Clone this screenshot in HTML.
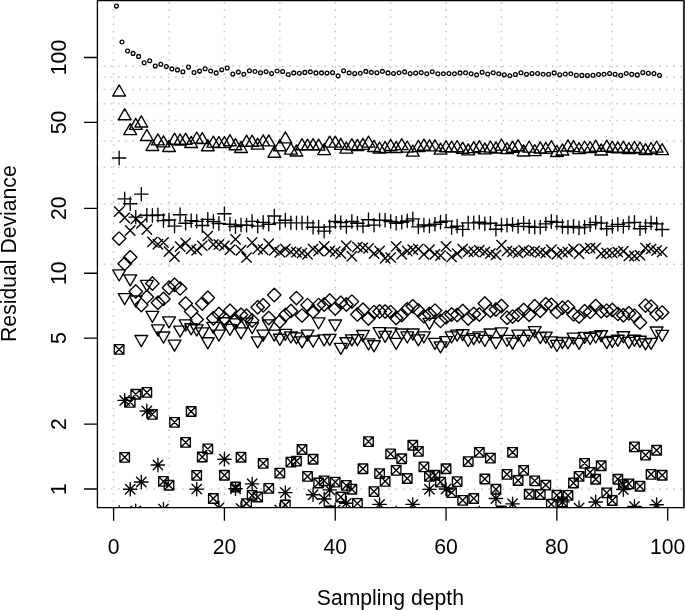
<!DOCTYPE html><html><head><meta charset="utf-8"><style>html,body{margin:0;padding:0;background:#fff;}svg{display:block;will-change:transform;}text{font-family:"Liberation Sans",sans-serif;fill:#000;}</style></head><body>
<svg width="685" height="610" viewBox="0 0 685 610">
<rect width="685" height="610" fill="#fff"/>
<defs><clipPath id="c"><rect x="97.4" y="0.5" width="586.2" height="507.2"/></clipPath></defs>
<path d="M113.6 1.91V507.7M169.01 1.91V507.7M224.42 1.91V507.7M279.83 1.91V507.7M335.24 1.91V507.7M390.65 1.91V507.7M446.06 1.91V507.7M501.47 1.91V507.7M556.88 1.91V507.7M612.29 1.91V507.7" stroke="#cccccc" stroke-width="1.5" stroke-dasharray="1.78 5.34" fill="none"/>
<path d="M96.51 489H683.6M96.51 264.32H683.6M96.51 203.73H683.6M96.51 167.24H683.6M96.51 141.04H683.6M96.51 120.59H683.6M96.51 103.82H683.6M96.51 89.59H683.6M96.51 77.24H683.6M96.51 66.34H683.6" stroke="#cccccc" stroke-width="1.5" stroke-dasharray="1.78 5.34" fill="none"/>
<g clip-path="url(#c)" fill="none" stroke="#000">
<path d="M114.54 6.1a1.9 1.9 0 1 0 3.8 0a1.9 1.9 0 1 0 -3.8 0M120.08 42a1.9 1.9 0 1 0 3.8 0a1.9 1.9 0 1 0 -3.8 0M125.62 51a1.9 1.9 0 1 0 3.8 0a1.9 1.9 0 1 0 -3.8 0M131.16 53.4a1.9 1.9 0 1 0 3.8 0a1.9 1.9 0 1 0 -3.8 0M136.71 56.4a1.9 1.9 0 1 0 3.8 0a1.9 1.9 0 1 0 -3.8 0M142.25 62.7a1.9 1.9 0 1 0 3.8 0a1.9 1.9 0 1 0 -3.8 0M147.79 60.8a1.9 1.9 0 1 0 3.8 0a1.9 1.9 0 1 0 -3.8 0M153.33 66a1.9 1.9 0 1 0 3.8 0a1.9 1.9 0 1 0 -3.8 0M158.87 64.3a1.9 1.9 0 1 0 3.8 0a1.9 1.9 0 1 0 -3.8 0M164.41 66.6a1.9 1.9 0 1 0 3.8 0a1.9 1.9 0 1 0 -3.8 0M169.95 68.9a1.9 1.9 0 1 0 3.8 0a1.9 1.9 0 1 0 -3.8 0M175.49 69.9a1.9 1.9 0 1 0 3.8 0a1.9 1.9 0 1 0 -3.8 0M181.03 71.7a1.9 1.9 0 1 0 3.8 0a1.9 1.9 0 1 0 -3.8 0M186.57 67.1a1.9 1.9 0 1 0 3.8 0a1.9 1.9 0 1 0 -3.8 0M192.12 72.5a1.9 1.9 0 1 0 3.8 0a1.9 1.9 0 1 0 -3.8 0M197.66 71.1a1.9 1.9 0 1 0 3.8 0a1.9 1.9 0 1 0 -3.8 0M203.2 68.7a1.9 1.9 0 1 0 3.8 0a1.9 1.9 0 1 0 -3.8 0M208.74 71a1.9 1.9 0 1 0 3.8 0a1.9 1.9 0 1 0 -3.8 0M214.28 72.9a1.9 1.9 0 1 0 3.8 0a1.9 1.9 0 1 0 -3.8 0M219.82 69.7a1.9 1.9 0 1 0 3.8 0a1.9 1.9 0 1 0 -3.8 0M225.36 68a1.9 1.9 0 1 0 3.8 0a1.9 1.9 0 1 0 -3.8 0M230.9 74a1.9 1.9 0 1 0 3.8 0a1.9 1.9 0 1 0 -3.8 0M236.44 72.1a1.9 1.9 0 1 0 3.8 0a1.9 1.9 0 1 0 -3.8 0M241.98 74.3a1.9 1.9 0 1 0 3.8 0a1.9 1.9 0 1 0 -3.8 0M247.53 70.7a1.9 1.9 0 1 0 3.8 0a1.9 1.9 0 1 0 -3.8 0M253.07 71.5a1.9 1.9 0 1 0 3.8 0a1.9 1.9 0 1 0 -3.8 0M258.61 72.8a1.9 1.9 0 1 0 3.8 0a1.9 1.9 0 1 0 -3.8 0M264.15 71.7a1.9 1.9 0 1 0 3.8 0a1.9 1.9 0 1 0 -3.8 0M269.69 73.6a1.9 1.9 0 1 0 3.8 0a1.9 1.9 0 1 0 -3.8 0M275.23 71a1.9 1.9 0 1 0 3.8 0a1.9 1.9 0 1 0 -3.8 0M280.77 71.5a1.9 1.9 0 1 0 3.8 0a1.9 1.9 0 1 0 -3.8 0M286.31 74.5a1.9 1.9 0 1 0 3.8 0a1.9 1.9 0 1 0 -3.8 0M291.85 72.9a1.9 1.9 0 1 0 3.8 0a1.9 1.9 0 1 0 -3.8 0M297.39 73.3a1.9 1.9 0 1 0 3.8 0a1.9 1.9 0 1 0 -3.8 0M302.94 72.4a1.9 1.9 0 1 0 3.8 0a1.9 1.9 0 1 0 -3.8 0M308.48 71.9a1.9 1.9 0 1 0 3.8 0a1.9 1.9 0 1 0 -3.8 0M314.02 72.9a1.9 1.9 0 1 0 3.8 0a1.9 1.9 0 1 0 -3.8 0M319.56 72.9a1.9 1.9 0 1 0 3.8 0a1.9 1.9 0 1 0 -3.8 0M325.1 73.1a1.9 1.9 0 1 0 3.8 0a1.9 1.9 0 1 0 -3.8 0M330.64 72.6a1.9 1.9 0 1 0 3.8 0a1.9 1.9 0 1 0 -3.8 0M336.18 75.9a1.9 1.9 0 1 0 3.8 0a1.9 1.9 0 1 0 -3.8 0M341.72 70.7a1.9 1.9 0 1 0 3.8 0a1.9 1.9 0 1 0 -3.8 0M347.26 72.9a1.9 1.9 0 1 0 3.8 0a1.9 1.9 0 1 0 -3.8 0M352.8 73.6a1.9 1.9 0 1 0 3.8 0a1.9 1.9 0 1 0 -3.8 0M358.35 73.3a1.9 1.9 0 1 0 3.8 0a1.9 1.9 0 1 0 -3.8 0M363.89 71.4a1.9 1.9 0 1 0 3.8 0a1.9 1.9 0 1 0 -3.8 0M369.43 72.4a1.9 1.9 0 1 0 3.8 0a1.9 1.9 0 1 0 -3.8 0M374.97 72.8a1.9 1.9 0 1 0 3.8 0a1.9 1.9 0 1 0 -3.8 0M380.51 71.4a1.9 1.9 0 1 0 3.8 0a1.9 1.9 0 1 0 -3.8 0M386.05 72.9a1.9 1.9 0 1 0 3.8 0a1.9 1.9 0 1 0 -3.8 0M391.59 73.5a1.9 1.9 0 1 0 3.8 0a1.9 1.9 0 1 0 -3.8 0M397.13 72.8a1.9 1.9 0 1 0 3.8 0a1.9 1.9 0 1 0 -3.8 0M402.67 71.9a1.9 1.9 0 1 0 3.8 0a1.9 1.9 0 1 0 -3.8 0M408.21 73.6a1.9 1.9 0 1 0 3.8 0a1.9 1.9 0 1 0 -3.8 0M413.76 73.1a1.9 1.9 0 1 0 3.8 0a1.9 1.9 0 1 0 -3.8 0M419.3 72.6a1.9 1.9 0 1 0 3.8 0a1.9 1.9 0 1 0 -3.8 0M424.84 73.8a1.9 1.9 0 1 0 3.8 0a1.9 1.9 0 1 0 -3.8 0M430.38 71.7a1.9 1.9 0 1 0 3.8 0a1.9 1.9 0 1 0 -3.8 0M435.92 73.8a1.9 1.9 0 1 0 3.8 0a1.9 1.9 0 1 0 -3.8 0M441.46 73.8a1.9 1.9 0 1 0 3.8 0a1.9 1.9 0 1 0 -3.8 0M447 73.5a1.9 1.9 0 1 0 3.8 0a1.9 1.9 0 1 0 -3.8 0M452.54 73.8a1.9 1.9 0 1 0 3.8 0a1.9 1.9 0 1 0 -3.8 0M458.08 72.9a1.9 1.9 0 1 0 3.8 0a1.9 1.9 0 1 0 -3.8 0M463.62 72.8a1.9 1.9 0 1 0 3.8 0a1.9 1.9 0 1 0 -3.8 0M469.17 73.8a1.9 1.9 0 1 0 3.8 0a1.9 1.9 0 1 0 -3.8 0M474.71 74.9a1.9 1.9 0 1 0 3.8 0a1.9 1.9 0 1 0 -3.8 0M480.25 72.2a1.9 1.9 0 1 0 3.8 0a1.9 1.9 0 1 0 -3.8 0M485.79 74a1.9 1.9 0 1 0 3.8 0a1.9 1.9 0 1 0 -3.8 0M491.33 72.8a1.9 1.9 0 1 0 3.8 0a1.9 1.9 0 1 0 -3.8 0M496.87 73.8a1.9 1.9 0 1 0 3.8 0a1.9 1.9 0 1 0 -3.8 0M502.41 74.7a1.9 1.9 0 1 0 3.8 0a1.9 1.9 0 1 0 -3.8 0M507.95 75.7a1.9 1.9 0 1 0 3.8 0a1.9 1.9 0 1 0 -3.8 0M513.49 74.5a1.9 1.9 0 1 0 3.8 0a1.9 1.9 0 1 0 -3.8 0M519.03 72.8a1.9 1.9 0 1 0 3.8 0a1.9 1.9 0 1 0 -3.8 0M524.58 74.3a1.9 1.9 0 1 0 3.8 0a1.9 1.9 0 1 0 -3.8 0M530.12 73.5a1.9 1.9 0 1 0 3.8 0a1.9 1.9 0 1 0 -3.8 0M535.66 73.5a1.9 1.9 0 1 0 3.8 0a1.9 1.9 0 1 0 -3.8 0M541.2 74.3a1.9 1.9 0 1 0 3.8 0a1.9 1.9 0 1 0 -3.8 0M546.74 74.2a1.9 1.9 0 1 0 3.8 0a1.9 1.9 0 1 0 -3.8 0M552.28 72.9a1.9 1.9 0 1 0 3.8 0a1.9 1.9 0 1 0 -3.8 0M557.82 74.7a1.9 1.9 0 1 0 3.8 0a1.9 1.9 0 1 0 -3.8 0M563.36 74a1.9 1.9 0 1 0 3.8 0a1.9 1.9 0 1 0 -3.8 0M568.9 73.8a1.9 1.9 0 1 0 3.8 0a1.9 1.9 0 1 0 -3.8 0M574.44 75.2a1.9 1.9 0 1 0 3.8 0a1.9 1.9 0 1 0 -3.8 0M579.99 75.4a1.9 1.9 0 1 0 3.8 0a1.9 1.9 0 1 0 -3.8 0M585.53 75.6a1.9 1.9 0 1 0 3.8 0a1.9 1.9 0 1 0 -3.8 0M591.07 75.2a1.9 1.9 0 1 0 3.8 0a1.9 1.9 0 1 0 -3.8 0M596.61 74.5a1.9 1.9 0 1 0 3.8 0a1.9 1.9 0 1 0 -3.8 0M602.15 74.3a1.9 1.9 0 1 0 3.8 0a1.9 1.9 0 1 0 -3.8 0M607.69 73.5a1.9 1.9 0 1 0 3.8 0a1.9 1.9 0 1 0 -3.8 0M613.23 74.3a1.9 1.9 0 1 0 3.8 0a1.9 1.9 0 1 0 -3.8 0M618.77 75.4a1.9 1.9 0 1 0 3.8 0a1.9 1.9 0 1 0 -3.8 0M624.31 73.5a1.9 1.9 0 1 0 3.8 0a1.9 1.9 0 1 0 -3.8 0M629.85 74.2a1.9 1.9 0 1 0 3.8 0a1.9 1.9 0 1 0 -3.8 0M635.39 74.9a1.9 1.9 0 1 0 3.8 0a1.9 1.9 0 1 0 -3.8 0M640.94 72.6a1.9 1.9 0 1 0 3.8 0a1.9 1.9 0 1 0 -3.8 0M646.48 73.3a1.9 1.9 0 1 0 3.8 0a1.9 1.9 0 1 0 -3.8 0M652.02 73.6a1.9 1.9 0 1 0 3.8 0a1.9 1.9 0 1 0 -3.8 0M657.56 75.4a1.9 1.9 0 1 0 3.8 0a1.9 1.9 0 1 0 -3.8 0" stroke-width="1.3"/>
<path d="M119.14 84.91L125.54 95.99H112.74ZM124.68 108.71L131.08 119.79H118.28ZM130.22 123.61L136.62 134.69H123.83ZM135.76 118.31L142.16 129.39H129.37ZM141.31 115.91L147.7 126.99H134.91ZM146.85 129.41L153.24 140.49H140.45ZM152.39 139.41L158.78 150.49H145.99ZM157.93 133.81L164.33 144.89H151.53ZM163.47 135.81L169.87 146.89H157.07ZM169.01 140.41L175.41 151.49H162.61ZM174.55 133.21L180.95 144.29H168.15ZM180.09 134.01L186.49 145.09H173.69ZM185.63 133.21L192.03 144.29H179.24ZM191.17 136.41L197.57 147.49H184.78ZM196.72 132.01L203.11 143.09H190.32ZM202.26 132.61L208.65 143.69H195.86ZM207.8 139.71L214.19 150.79H201.4ZM213.34 136.11L219.74 147.19H206.94ZM218.88 136.51L225.28 147.59H212.48ZM224.42 136.51L230.82 147.59H218.02ZM229.96 134.71L236.36 145.79H223.56ZM235.5 138.71L241.9 149.79H229.1ZM241.04 141.41L247.44 152.49H234.65ZM246.58 135.21L252.98 146.29H240.19ZM252.12 135.21L258.52 146.29H245.73ZM257.67 138.11L264.06 149.19H251.27ZM263.21 134.81L269.6 145.89H256.81ZM268.75 134.81L275.15 145.89H262.35ZM274.29 146.21L280.69 157.29H267.89ZM279.83 139.71L286.23 150.79H273.43ZM285.37 131.81L291.77 142.89H278.97ZM290.91 143.11L297.31 154.19H284.51ZM296.45 144.91L302.85 155.99H290.06ZM301.99 138.71L308.39 149.79H295.6ZM307.53 139.11L313.93 150.19H301.14ZM313.08 138.71L319.47 149.79H306.68ZM318.62 139.11L325.01 150.19H312.22ZM324.16 143.61L330.56 154.69H317.76ZM329.7 136.11L336.1 147.19H323.3ZM335.24 136.11L341.64 147.19H328.84ZM340.78 138.31L347.18 149.39H334.38ZM346.32 142.01L352.72 153.09H339.92ZM351.86 138.71L358.26 149.79H345.47ZM357.4 139.41L363.8 150.49H351.01ZM362.95 138.31L369.34 149.39H356.55ZM368.49 136.11L374.88 147.19H362.09ZM374.03 140.41L380.42 151.49H367.63ZM379.57 142.01L385.97 153.09H373.17ZM385.11 141.41L391.51 152.49H378.71ZM390.65 139.41L397.05 150.49H384.25ZM396.19 141.41L402.59 152.49H389.79ZM401.73 138.61L408.13 149.69H395.33ZM407.27 141.01L413.67 152.09H400.88ZM412.81 145.01L419.21 156.09H406.42ZM418.36 140.41L424.75 151.49H411.96ZM423.9 139.11L430.29 150.19H417.5ZM429.44 139.81L435.83 150.89H423.04ZM434.98 139.81L441.38 150.89H428.58ZM440.52 143.11L446.92 154.19H434.12ZM446.06 140.71L452.46 151.79H439.66ZM451.6 141.01L458 152.09H445.2ZM457.14 140.51L463.54 151.59H450.74ZM462.68 142.21L469.08 153.29H456.29ZM468.22 143.81L474.62 154.89H461.83ZM473.76 141.61L480.16 152.69H467.37ZM479.31 140.61L485.7 151.69H472.91ZM484.85 142.81L491.24 153.89H478.45ZM490.39 141.01L496.79 152.09H483.99ZM495.93 141.91L502.33 152.99H489.53ZM501.47 139.01L507.87 150.09H495.07ZM507.01 142.61L513.41 153.69H500.61ZM512.55 141.21L518.95 152.29H506.15ZM518.09 139.71L524.49 150.79H511.7ZM523.63 144.91L530.03 155.99H517.24ZM529.18 141.01L535.57 152.09H522.78ZM534.72 144.51L541.11 155.59H528.32ZM540.26 141.91L546.65 152.99H533.86ZM545.8 142.31L552.2 153.39H539.4ZM551.34 140.61L557.74 151.69H544.94ZM556.88 145.41L563.28 156.49H550.48ZM562.42 143.91L568.82 154.99H556.02ZM567.96 139.91L574.36 150.99H561.56ZM573.5 140.61L579.9 151.69H567.11ZM579.04 142.61L585.44 153.69H572.65ZM584.59 141.01L590.98 152.09H578.19ZM590.13 141.51L596.52 152.59H583.73ZM595.67 140.21L602.06 151.29H589.27ZM601.21 143.91L607.61 154.99H594.81ZM606.75 140.21L613.15 151.29H600.35ZM612.29 141.21L618.69 152.29H605.89ZM617.83 141.81L624.23 152.89H611.43ZM623.37 141.21L629.77 152.29H616.97ZM628.91 142.51L635.31 153.59H622.52ZM634.45 141.31L640.85 152.39H628.06ZM640 142.01L646.39 153.09H633.6ZM645.54 143.61L651.93 154.69H639.14ZM651.08 142.51L657.47 153.59H644.68ZM656.62 141.01L663.02 152.09H650.22ZM662.16 143.61L668.56 154.69H655.76ZM119.14 280.99L125.54 269.91H112.74ZM124.68 304.69L131.08 293.61H118.28ZM130.22 285.89L136.62 274.81H123.83ZM135.76 307.09L142.16 296.01H129.37ZM141.31 346.59L147.7 335.51H134.91ZM146.85 291.39L153.24 280.31H140.45ZM152.39 322.39L158.78 311.31H145.99ZM157.93 335.99L164.33 324.91H151.53ZM163.47 343.09L169.87 332.01H157.07ZM169.01 327.89L175.41 316.81H162.61ZM174.55 351.19L180.95 340.11H168.15ZM180.09 337.19L186.49 326.11H173.69ZM185.63 330.99L192.03 319.91H179.24ZM191.17 334.79L197.57 323.71H184.78ZM196.72 335.99L203.11 324.91H190.32ZM202.26 338.89L208.65 327.81H195.86ZM207.8 348.79L214.19 337.71H201.4ZM213.34 333.39L219.74 322.31H206.94ZM218.88 341.19L225.28 330.11H212.48ZM224.42 328.79L230.82 317.71H218.02ZM229.96 335.39L236.36 324.31H223.56ZM235.5 329.89L241.9 318.81H229.1ZM241.04 338.89L247.44 327.81H234.65ZM246.58 329.19L252.98 318.11H240.19ZM252.12 333.69L258.52 322.61H245.73ZM257.67 347.89L264.06 336.81H251.27ZM263.21 341.19L269.6 330.11H256.81ZM268.75 330.89L275.15 319.81H262.35ZM274.29 341.19L280.69 330.11H267.89ZM279.83 345.29L286.23 334.21H273.43ZM285.37 340.39L291.77 329.31H278.97ZM290.91 342.99L297.31 331.91H284.51ZM296.45 343.89L302.85 332.81H290.06ZM301.99 347.89L308.39 336.81H295.6ZM307.53 341.19L313.93 330.11H301.14ZM313.08 347.09L319.47 336.01H306.68ZM318.62 328.99L325.01 317.91H312.22ZM324.16 345.89L330.56 334.81H317.76ZM329.7 345.39L336.1 334.31H323.3ZM335.24 331.09L341.64 320.01H328.84ZM340.78 354.39L347.18 343.31H334.38ZM346.32 348.79L352.72 337.71H339.92ZM351.86 345.89L358.26 334.81H345.47ZM357.4 345.69L363.8 334.61H351.01ZM362.95 341.59L369.34 330.51H356.55ZM368.49 349.99L374.88 338.91H362.09ZM374.03 351.79L380.42 340.71H367.63ZM379.57 338.69L385.97 327.61H373.17ZM385.11 342.39L391.51 331.31H378.71ZM390.65 338.89L397.05 327.81H384.25ZM396.19 349.39L402.59 338.31H389.79ZM401.73 340.09L408.13 329.01H395.33ZM407.27 342.99L413.67 331.91H400.88ZM412.81 340.09L419.21 329.01H406.42ZM418.36 345.89L424.75 334.81H411.96ZM423.9 342.99L430.29 331.91H417.5ZM429.44 329.39L435.83 318.31H423.04ZM434.98 349.39L441.38 338.31H428.58ZM440.52 352.89L446.92 341.81H434.12ZM446.06 347.69L452.46 336.61H439.66ZM451.6 342.99L458 331.91H445.2ZM457.14 341.19L463.54 330.11H450.74ZM462.68 340.69L469.08 329.61H456.29ZM468.22 346.49L474.62 335.41H461.83ZM473.76 344.69L480.16 333.61H467.37ZM479.31 342.99L485.7 331.91H472.91ZM484.85 346.49L491.24 335.41H478.45ZM490.39 340.09L496.79 329.01H483.99ZM495.93 348.79L502.33 337.71H489.53ZM501.47 338.89L507.87 327.81H495.07ZM507.01 346.49L513.41 335.41H500.61ZM512.55 349.19L518.95 338.11H506.15ZM518.09 341.19L524.49 330.11H511.7ZM523.63 346.49L530.03 335.41H517.24ZM529.18 341.19L535.57 330.11H522.78ZM534.72 337.69L541.11 326.61H528.32ZM540.26 343.59L546.65 332.51H533.86ZM545.8 343.19L552.2 332.11H539.4ZM551.34 347.99L557.74 336.91H544.94ZM556.88 351.49L563.28 340.41H550.48ZM562.42 348.59L568.82 337.51H556.02ZM567.96 348.79L574.36 337.71H561.56ZM573.5 344.19L579.9 333.11H567.11ZM579.04 349.39L585.44 338.31H572.65ZM584.59 343.39L590.98 332.31H578.19ZM590.13 344.49L596.52 333.41H583.73ZM595.67 342.99L602.06 331.91H589.27ZM601.21 341.79L607.61 330.71H594.81ZM606.75 348.59L613.15 337.51H600.35ZM612.29 347.49L618.69 336.41H605.89ZM617.83 346.29L624.23 335.21H611.43ZM623.37 342.79L629.77 331.71H616.97ZM628.91 348.39L635.31 337.31H622.52ZM634.45 346.29L640.85 335.21H628.06ZM640 347.29L646.39 336.21H633.6ZM645.54 349.89L651.93 338.81H639.14ZM651.08 349.39L657.47 338.31H644.68ZM656.62 338.09L663.02 327.01H650.22ZM662.16 341.39L668.56 330.31H655.76ZM112.42 158H125.86M119.14 151.28V164.72M117.96 198.9H131.4M124.68 192.18V205.62M123.51 203.7H136.94M130.22 196.98V210.42M129.05 217.1H142.48M135.76 210.38V223.82M134.59 194.1H148.02M141.31 187.38V200.82M140.13 215.2H153.56M146.85 208.48V221.92M145.67 215.5H159.1M152.39 208.78V222.22M151.21 215H164.65M157.93 208.28V221.72M156.75 220.6H170.19M163.47 213.88V227.32M162.29 220H175.73M169.01 213.28V226.72M167.83 226.1H181.27M174.55 219.38V232.82M173.37 214.7H186.81M180.09 207.98V221.42M178.92 223.2H192.35M185.63 216.48V229.92M184.46 220.6H197.89M191.17 213.88V227.32M190 221.3H203.43M196.72 214.58V228.02M195.54 225.5H208.97M202.26 218.78V232.22M201.08 219.3H214.51M207.8 212.58V226.02M206.62 221.5H220.06M213.34 214.78V228.22M212.16 223.5H225.6M218.88 216.78V230.22M217.7 213.7H231.14M224.42 206.98V220.42M223.24 224.2H236.68M229.96 217.48V230.92M228.78 226.5H242.22M235.5 219.78V233.22M234.33 225H247.76M241.04 218.28V231.72M239.87 225.2H253.3M246.58 218.48V231.92M245.41 221.3H258.84M252.12 214.58V228.02M250.95 226.1H264.38M257.67 219.38V232.82M256.49 222.3H269.92M263.21 215.58V229.02M262.03 224.2H275.47M268.75 217.48V230.92M267.57 216H281.01M274.29 209.28V222.72M273.11 222.9H286.55M279.83 216.18V229.62M278.65 220.2H292.09M285.37 213.48V226.92M284.19 222.9H297.63M290.91 216.18V229.62M289.74 222.9H303.17M296.45 216.18V229.62M295.28 222.9H308.71M301.99 216.18V229.62M300.82 222.9H314.25M307.53 216.18V229.62M306.36 227.2H319.79M313.08 220.48V233.92M311.9 227.2H325.33M318.62 220.48V233.92M317.44 231.1H330.88M324.16 224.38V237.82M322.98 226.8H336.42M329.7 220.08V233.52M328.52 221.5H341.96M335.24 214.78V228.22M334.06 222.6H347.5M340.78 215.88V229.32M339.6 226.5H353.04M346.32 219.78V233.22M345.15 221.5H358.58M351.86 214.78V228.22M350.69 223.2H364.12M357.4 216.48V229.92M356.23 226.1H369.66M362.95 219.38V232.82M361.77 219.7H375.2M368.49 212.98V226.42M367.31 225.1H380.74M374.03 218.38V231.82M372.85 220.2H386.29M379.57 213.48V226.92M378.39 220.2H391.83M385.11 213.48V226.92M383.93 221.5H397.37M390.65 214.78V228.22M389.47 223.2H402.91M396.19 216.48V229.92M395.01 222.2H408.45M401.73 215.48V228.92M400.56 220.9H413.99M407.27 214.18V227.62M406.1 218.9H419.53M412.81 212.18V225.62M411.64 226.8H425.07M418.36 220.08V233.52M417.18 225H430.61M423.9 218.28V231.72M422.72 225.9H436.15M429.44 219.18V232.62M428.26 224.2H441.7M434.98 217.48V230.92M433.8 222.2H447.24M440.52 215.48V228.92M439.34 221.1H452.78M446.06 214.38V227.82M444.88 227.5H458.32M451.6 220.78V234.22M450.42 226.1H463.86M457.14 219.38V232.82M455.97 229.4H469.4M462.68 222.68V236.12M461.51 222.9H474.94M468.22 216.18V229.62M467.05 222.9H480.48M473.76 216.18V229.62M472.59 222.2H486.02M479.31 215.48V228.92M478.13 223.8H491.56M484.85 217.08V230.52M483.67 223.2H497.11M490.39 216.48V229.92M489.21 229.2H502.65M495.93 222.48V235.92M494.75 225.2H508.19M501.47 218.48V231.92M500.29 225.2H513.73M507.01 218.48V231.92M505.83 224.3H519.27M512.55 217.58V231.02M511.38 226.4H524.81M518.09 219.68V233.12M516.92 223.4H530.35M523.63 216.68V230.12M522.46 226.5H535.89M529.18 219.78V233.22M528 227.2H541.43M534.72 220.48V233.92M533.54 227.2H546.97M540.26 220.48V233.92M539.08 223.9H552.52M545.8 217.18V230.62M544.62 221.5H558.06M551.34 214.78V228.22M550.16 222.2H563.6M556.88 215.48V228.92M555.7 226.5H569.14M562.42 219.78V233.22M561.24 227.2H574.68M567.96 220.48V233.92M566.79 226.3H580.22M573.5 219.58V233.02M572.33 227.9H585.76M579.04 221.18V234.62M577.87 227.1H591.3M584.59 220.38V233.82M583.41 224.7H596.84M590.13 217.98V231.42M588.95 222.3H602.38M595.67 215.58V229.02M594.49 223.1H607.93M601.21 216.38V229.82M600.03 228.7H613.47M606.75 221.98V235.42M605.57 226.3H619.01M612.29 219.58V233.02M611.11 224.4H624.55M617.83 217.68V231.12M616.65 226.3H630.09M623.37 219.58V233.02M622.2 222.8H635.63M628.91 216.08V229.52M627.74 222.3H641.17M634.45 215.58V229.02M633.28 228.7H646.71M640 221.98V235.42M638.82 226.3H652.25M645.54 219.58V233.02M644.36 222.8H657.79M651.08 216.08V229.52M649.9 223.9H663.34M656.62 217.18V230.62M655.44 229.5H668.88M662.16 222.78V236.22M114.39 206.85L123.89 216.35M114.39 216.35L123.89 206.85M119.93 212.95L129.43 222.45M119.93 222.45L129.43 212.95M125.47 225.75L134.97 235.25M125.47 235.25L134.97 225.75M131.01 214.35L140.51 223.85M131.01 223.85L140.51 214.35M136.56 218.65L146.06 228.15M136.56 228.15L146.06 218.65M142.1 224.85L151.6 234.35M142.1 234.35L151.6 224.85M147.64 237.15L157.14 246.65M147.64 246.65L157.14 237.15M153.18 239.45L162.68 248.95M153.18 248.95L162.68 239.45M158.72 237.85L168.22 247.35M158.72 247.35L168.22 237.85M164.26 246.85L173.76 256.35M164.26 256.35L173.76 246.85M169.8 251.95L179.3 261.45M169.8 261.45L179.3 251.95M175.34 241.85L184.84 251.35M175.34 251.35L184.84 241.85M180.88 238.25L190.38 247.75M180.88 247.75L190.38 238.25M186.42 244.35L195.92 253.85M186.42 253.85L195.92 244.35M191.97 245.45L201.47 254.95M191.97 254.95L201.47 245.45M197.51 240.95L207.01 250.45M197.51 250.45L207.01 240.95M203.05 231.15L212.55 240.65M203.05 240.65L212.55 231.15M208.59 239.65L218.09 249.15M208.59 249.15L218.09 239.65M214.13 239.65L223.63 249.15M214.13 249.15L223.63 239.65M219.67 240.95L229.17 250.45M219.67 250.45L229.17 240.95M225.21 244.95L234.71 254.45M225.21 254.45L234.71 244.95M230.75 234.45L240.25 243.95M230.75 243.95L240.25 234.45M236.29 245.55L245.79 255.05M236.29 255.05L245.79 245.55M241.83 252.85L251.33 262.35M241.83 262.35L251.33 252.85M247.38 237.75L256.88 247.25M247.38 247.25L256.88 237.75M252.92 244.25L262.42 253.75M252.92 253.75L262.42 244.25M258.46 244.95L267.96 254.45M258.46 254.45L267.96 244.95M264 239.05L273.5 248.55M264 248.55L273.5 239.05M269.54 245.55L279.04 255.05M269.54 255.05L279.04 245.55M275.08 247.55L284.58 257.05M275.08 257.05L284.58 247.55M280.62 244.25L290.12 253.75M280.62 253.75L290.12 244.25M286.16 246.95L295.66 256.45M286.16 256.45L295.66 246.95M291.7 247.55L301.2 257.05M291.7 257.05L301.2 247.55M297.24 248.25L306.74 257.75M297.24 257.75L306.74 248.25M302.78 249.55L312.28 259.05M302.78 259.05L312.28 249.55M308.33 244.25L317.83 253.75M308.33 253.75L317.83 244.25M313.87 246.25L323.37 255.75M313.87 255.75L323.37 246.25M319.41 241.65L328.91 251.15M319.41 251.15L328.91 241.65M324.95 246.25L334.45 255.75M324.95 255.75L334.45 246.25M330.49 246.95L339.99 256.45M330.49 256.45L339.99 246.95M336.03 248.85L345.53 258.35M336.03 258.35L345.53 248.85M341.57 240.95L351.07 250.45M341.57 250.45L351.07 240.95M347.11 251.45L356.61 260.95M347.11 260.95L356.61 251.45M352.65 242.35L362.15 251.85M352.65 251.85L362.15 242.35M358.2 242.95L367.7 252.45M358.2 252.45L367.7 242.95M363.74 243.65L373.24 253.15M363.74 253.15L373.24 243.65M369.28 248.85L378.78 258.35M369.28 258.35L378.78 248.85M374.82 246.25L384.32 255.75M374.82 255.75L384.32 246.25M380.36 253.45L389.86 262.95M380.36 262.95L389.86 253.45M385.9 252.85L395.4 262.35M385.9 262.35L395.4 252.85M391.44 241.65L400.94 251.15M391.44 251.15L400.94 241.65M396.98 249.55L406.48 259.05M396.98 259.05L406.48 249.55M402.52 246.25L412.02 255.75M402.52 255.75L412.02 246.25M408.06 244.95L417.56 254.45M408.06 254.45L417.56 244.95M413.61 244.25L423.11 253.75M413.61 253.75L423.11 244.25M419.15 249.55L428.65 259.05M419.15 259.05L428.65 249.55M424.69 244.95L434.19 254.45M424.69 254.45L434.19 244.95M430.23 249.55L439.73 259.05M430.23 259.05L439.73 249.55M435.77 250.85L445.27 260.35M435.77 260.35L445.27 250.85M441.31 241.65L450.81 251.15M441.31 251.15L450.81 241.65M446.85 252.15L456.35 261.65M446.85 261.65L456.35 252.15M452.39 248.85L461.89 258.35M452.39 258.35L461.89 248.85M457.93 244.25L467.43 253.75M457.93 253.75L467.43 244.25M463.47 246.95L472.97 256.45M463.47 256.45L472.97 246.95M469.01 246.95L478.51 256.45M469.01 256.45L478.51 246.95M474.56 245.55L484.06 255.05M474.56 255.05L484.06 245.55M480.1 247.25L489.6 256.75M480.1 256.75L489.6 247.25M485.64 248.85L495.14 258.35M485.64 258.35L495.14 248.85M491.18 250.15L500.68 259.65M491.18 259.65L500.68 250.15M496.72 240.35L506.22 249.85M496.72 249.85L506.22 240.35M502.26 246.25L511.76 255.75M502.26 255.75L511.76 246.25M507.8 246.95L517.3 256.45M507.8 256.45L517.3 246.95M513.34 248.25L522.84 257.75M513.34 257.75L522.84 248.25M518.88 245.55L528.38 255.05M518.88 255.05L528.38 245.55M524.43 246.95L533.93 256.45M524.43 256.45L533.93 246.95M529.97 246.25L539.47 255.75M529.97 255.75L539.47 246.25M535.51 247.55L545.01 257.05M535.51 257.05L545.01 247.55M541.05 248.25L550.55 257.75M541.05 257.75L550.55 248.25M546.59 244.95L556.09 254.45M546.59 254.45L556.09 244.95M552.13 249.55L561.63 259.05M552.13 259.05L561.63 249.55M557.67 247.55L567.17 257.05M557.67 257.05L567.17 247.55M563.21 247.15L572.71 256.65M563.21 256.65L572.71 247.15M568.75 244.15L578.25 253.65M568.75 253.65L578.25 244.15M574.29 248.95L583.79 258.45M574.29 258.45L583.79 248.95M579.84 244.15L589.34 253.65M579.84 253.65L589.34 244.15M585.38 243.35L594.88 252.85M585.38 252.85L594.88 243.35M590.92 243.35L600.42 252.85M590.92 252.85L600.42 243.35M596.46 248.95L605.96 258.45M596.46 258.45L605.96 248.95M602 248.15L611.5 257.65M602 257.65L611.5 248.15M607.54 248.15L617.04 257.65M607.54 257.65L617.04 248.15M613.08 247.35L622.58 256.85M613.08 256.85L622.58 247.35M618.62 246.55L628.12 256.05M618.62 256.05L628.12 246.55M624.16 251.35L633.66 260.85M624.16 260.85L633.66 251.35M629.7 251.35L639.2 260.85M629.7 260.85L639.2 251.35M635.25 250.55L644.75 260.05M635.25 260.05L644.75 250.55M640.79 243.35L650.29 252.85M640.79 252.85L650.29 243.35M646.33 244.15L655.83 253.65M646.33 253.65L655.83 244.15M651.87 245.75L661.37 255.25M651.87 255.25L661.37 245.75M657.41 247.35L666.91 256.85M657.41 256.85L666.91 247.35M112.42 238.6L119.14 231.88L125.86 238.6L119.14 245.32ZM117.96 263.7L124.68 256.98L131.4 263.7L124.68 270.42ZM123.51 257.2L130.22 250.48L136.94 257.2L130.22 263.92ZM129.05 291.5L135.76 284.78L142.48 291.5L135.76 298.22ZM134.59 305L141.31 298.28L148.02 305L141.31 311.72ZM140.13 296.9L146.85 290.18L153.56 296.9L146.85 303.62ZM145.67 283.5L152.39 276.78L159.1 283.5L152.39 290.22ZM151.21 302.8L157.93 296.08L164.65 302.8L157.93 309.52ZM156.75 298.9L163.47 292.18L170.19 298.9L163.47 305.62ZM162.29 287.7L169.01 280.98L175.73 287.7L169.01 294.42ZM167.83 284.7L174.55 277.98L181.27 284.7L174.55 291.42ZM173.37 288.4L180.09 281.68L186.81 288.4L180.09 295.12ZM178.92 303.5L185.63 296.78L192.35 303.5L185.63 310.22ZM184.46 311.4L191.17 304.68L197.89 311.4L191.17 318.12ZM190 319.4L196.72 312.68L203.43 319.4L196.72 326.12ZM195.54 303.6L202.26 296.88L208.97 303.6L202.26 310.32ZM201.08 297.7L207.8 290.98L214.51 297.7L207.8 304.42ZM206.62 318.2L213.34 311.48L220.06 318.2L213.34 324.92ZM212.16 313.9L218.88 307.18L225.6 313.9L218.88 320.62ZM217.7 318.3L224.42 311.58L231.14 318.3L224.42 325.02ZM223.24 310.8L229.96 304.08L236.68 310.8L229.96 317.52ZM228.78 320.4L235.5 313.68L242.22 320.4L235.5 327.12ZM234.33 314.8L241.04 308.08L247.76 314.8L241.04 321.52ZM239.87 315.7L246.58 308.98L253.3 315.7L246.58 322.42ZM245.41 320.5L252.12 313.78L258.84 320.5L252.12 327.22ZM250.95 307.3L257.67 300.58L264.38 307.3L257.67 314.02ZM256.49 305.2L263.21 298.48L269.92 305.2L263.21 311.92ZM262.03 318L268.75 311.28L275.47 318L268.75 324.72ZM267.57 295L274.29 288.28L281.01 295L274.29 301.72ZM273.11 321.5L279.83 314.78L286.55 321.5L279.83 328.22ZM278.65 315L285.37 308.28L292.09 315L285.37 321.72ZM284.19 311L290.91 304.28L297.63 311L290.91 317.72ZM289.74 298.1L296.45 291.38L303.17 298.1L296.45 304.82ZM295.28 315.6L301.99 308.88L308.71 315.6L301.99 322.32ZM300.82 305.1L307.53 298.38L314.25 305.1L307.53 311.82ZM306.36 311.5L313.08 304.78L319.79 311.5L313.08 318.22ZM311.9 305.1L318.62 298.38L325.33 305.1L318.62 311.82ZM317.44 304.5L324.16 297.78L330.88 304.5L324.16 311.22ZM322.98 300.4L329.7 293.68L336.42 300.4L329.7 307.12ZM328.52 308.6L335.24 301.88L341.96 308.6L335.24 315.32ZM334.06 302.8L340.78 296.08L347.5 302.8L340.78 309.52ZM339.6 304.5L346.32 297.78L353.04 304.5L346.32 311.22ZM345.15 301.6L351.86 294.88L358.58 301.6L351.86 308.32ZM350.69 314.5L357.4 307.78L364.12 314.5L357.4 321.22ZM356.23 309.8L362.95 303.08L369.66 309.8L362.95 316.52ZM361.77 318.5L368.49 311.78L375.2 318.5L368.49 325.22ZM367.31 312.1L374.03 305.38L380.74 312.1L374.03 318.82ZM372.85 311.5L379.57 304.78L386.29 311.5L379.57 318.22ZM378.39 311.5L385.11 304.78L391.83 311.5L385.11 318.22ZM383.93 312.1L390.65 305.38L397.37 312.1L390.65 318.82ZM389.47 318L396.19 311.28L402.91 318L396.19 324.72ZM395.01 315L401.73 308.28L408.45 315L401.73 321.72ZM400.56 309.2L407.27 302.48L413.99 309.2L407.27 315.92ZM406.1 306.3L412.81 299.58L419.53 306.3L412.81 313.02ZM411.64 310.4L418.36 303.68L425.07 310.4L418.36 317.12ZM417.18 316.2L423.9 309.48L430.61 316.2L423.9 322.92ZM422.72 313.9L429.44 307.18L436.15 313.9L429.44 320.62ZM428.26 310.6L434.98 303.88L441.7 310.6L434.98 317.32ZM433.8 320.9L440.52 314.18L447.24 320.9L440.52 327.62ZM439.34 317.4L446.06 310.68L452.78 317.4L446.06 324.12ZM444.88 314.5L451.6 307.78L458.32 314.5L451.6 321.22ZM450.42 315L457.14 308.28L463.86 315L457.14 321.72ZM455.97 311L462.68 304.28L469.4 311L462.68 317.72ZM461.51 318.5L468.22 311.78L474.94 318.5L468.22 325.22ZM467.05 313.9L473.76 307.18L480.48 313.9L473.76 320.62ZM472.59 314.5L479.31 307.78L486.02 314.5L479.31 321.22ZM478.13 303.4L484.85 296.68L491.56 303.4L484.85 310.12ZM483.67 310.7L490.39 303.98L497.11 310.7L490.39 317.42ZM489.21 309.5L495.93 302.78L502.65 309.5L495.93 316.22ZM494.75 306L501.47 299.28L508.19 306L501.47 312.72ZM500.29 317.7L507.01 310.98L513.73 317.7L507.01 324.42ZM505.83 316.6L512.55 309.88L519.27 316.6L512.55 323.32ZM511.38 314.8L518.09 308.08L524.81 314.8L518.09 321.52ZM516.92 310L523.63 303.28L530.35 310L523.63 316.72ZM522.46 314.8L529.18 308.08L535.89 314.8L529.18 321.52ZM528 306.3L534.72 299.58L541.43 306.3L534.72 313.02ZM533.54 310.7L540.26 303.98L546.97 310.7L540.26 317.42ZM539.08 304.2L545.8 297.48L552.52 304.2L545.8 310.92ZM544.62 304.8L551.34 298.08L558.06 304.8L551.34 311.52ZM550.16 311.9L556.88 305.18L563.6 311.9L556.88 318.62ZM555.7 307.7L562.42 300.98L569.14 307.7L562.42 314.42ZM561.24 307.1L567.96 300.38L574.68 307.1L567.96 313.82ZM566.79 314.2L573.5 307.48L580.22 314.2L573.5 320.92ZM572.33 316.6L579.04 309.88L585.76 316.6L579.04 323.32ZM577.87 311.2L584.59 304.48L591.3 311.2L584.59 317.92ZM583.41 311.9L590.13 305.18L596.84 311.9L590.13 318.62ZM588.95 305.9L595.67 299.18L602.38 305.9L595.67 312.62ZM594.49 311.3L601.21 304.58L607.93 311.3L601.21 318.02ZM600.03 310.6L606.75 303.88L613.47 310.6L606.75 317.32ZM605.57 310L612.29 303.28L619.01 310L612.29 316.72ZM611.11 313.9L617.83 307.18L624.55 313.9L617.83 320.62ZM616.65 315.2L623.37 308.48L630.09 315.2L623.37 321.92ZM622.2 313.2L628.91 306.48L635.63 313.2L628.91 319.92ZM627.74 315.8L634.45 309.08L641.17 315.8L634.45 322.52ZM633.28 322.6L640 315.88L646.71 322.6L640 329.32ZM638.82 305.6L645.54 298.88L652.25 305.6L645.54 312.32ZM644.36 306.6L651.08 299.88L657.79 306.6L651.08 313.32ZM649.9 314.1L656.62 307.38L663.34 314.1L656.62 320.82ZM655.44 312.5L662.16 305.78L668.88 312.5L662.16 319.22ZM114.39 344.65H123.89V354.15H114.39ZM114.39 344.65L123.89 354.15M114.39 354.15L123.89 344.65M119.93 452.55H129.43V462.05H119.93ZM119.93 452.55L129.43 462.05M119.93 462.05L129.43 452.55M125.47 397.55H134.97V407.05H125.47ZM125.47 397.55L134.97 407.05M125.47 407.05L134.97 397.55M131.01 389.45H140.51V398.95H131.01ZM131.01 389.45L140.51 398.95M131.01 398.95L140.51 389.45M142.1 387.65H151.6V397.15H142.1ZM142.1 387.65L151.6 397.15M142.1 397.15L151.6 387.65M147.64 409.55H157.14V419.05H147.64ZM147.64 409.55L157.14 419.05M147.64 419.05L157.14 409.55M158.72 476.65H168.22V486.15H158.72ZM158.72 476.65L168.22 486.15M158.72 486.15L168.22 476.65M164.26 480.45H173.76V489.95H164.26ZM164.26 480.45L173.76 489.95M164.26 489.95L173.76 480.45M169.8 417.55H179.3V427.05H169.8ZM169.8 417.55L179.3 427.05M169.8 427.05L179.3 417.55M180.88 437.65H190.38V447.15H180.88ZM180.88 437.65L190.38 447.15M180.88 447.15L190.38 437.65M186.42 406.75H195.92V416.25H186.42ZM186.42 406.75L195.92 416.25M186.42 416.25L195.92 406.75M191.97 470.55H201.47V480.05H191.97ZM191.97 470.55L201.47 480.05M191.97 480.05L201.47 470.55M197.51 452.25H207.01V461.75H197.51ZM197.51 452.25L207.01 461.75M197.51 461.75L207.01 452.25M203.05 444.15H212.55V453.65H203.05ZM203.05 444.15L212.55 453.65M203.05 453.65L212.55 444.15M208.59 493.75H218.09V503.25H208.59ZM208.59 493.75L218.09 503.25M208.59 503.25L218.09 493.75M219.67 470.45H229.17V479.95H219.67ZM219.67 470.45L229.17 479.95M219.67 479.95L229.17 470.45M230.75 482.25H240.25V491.75H230.75ZM230.75 482.25L240.25 491.75M230.75 491.75L240.25 482.25M236.29 452.45H245.79V461.95H236.29ZM236.29 452.45L245.79 461.95M236.29 461.95L245.79 452.45M241.83 498.85H251.33V508.35H241.83ZM241.83 498.85L251.33 508.35M241.83 508.35L251.33 498.85M247.38 490.65H256.88V500.15H247.38ZM247.38 490.65L256.88 500.15M247.38 500.15L256.88 490.65M252.92 492.25H262.42V501.75H252.92ZM252.92 492.25L262.42 501.75M252.92 501.75L262.42 492.25M258.46 458.55H267.96V468.05H258.46ZM258.46 458.55L267.96 468.05M258.46 468.05L267.96 458.55M264 483.65H273.5V493.15H264ZM264 483.65L273.5 493.15M264 493.15L273.5 483.65M275.08 468.35H284.58V477.85H275.08ZM275.08 468.35L284.58 477.85M275.08 477.85L284.58 468.35M280.62 500.25H290.12V509.75H280.62ZM280.62 500.25L290.12 509.75M280.62 509.75L290.12 500.25M286.16 457.35H295.66V466.85H286.16ZM286.16 457.35L295.66 466.85M286.16 466.85L295.66 457.35M291.7 456.35H301.2V465.85H291.7ZM291.7 456.35L301.2 465.85M291.7 465.85L301.2 456.35M297.24 444.75H306.74V454.25H297.24ZM297.24 444.75L306.74 454.25M297.24 454.25L306.74 444.75M302.78 471.65H312.28V481.15H302.78ZM302.78 471.65L312.28 481.15M302.78 481.15L312.28 471.65M308.33 454.45H317.83V463.95H308.33ZM308.33 454.45L317.83 463.95M308.33 463.95L317.83 454.45M313.87 478.25H323.37V487.75H313.87ZM313.87 478.25L323.37 487.75M313.87 487.75L323.37 478.25M319.41 476.05H328.91V485.55H319.41ZM319.41 476.05L328.91 485.55M319.41 485.55L328.91 476.05M324.95 506.25H334.45V515.75H324.95ZM324.95 506.25L334.45 515.75M324.95 515.75L334.45 506.25M330.49 477.35H339.99V486.85H330.49ZM330.49 477.35L339.99 486.85M330.49 486.85L339.99 477.35M336.03 492.25H345.53V501.75H336.03ZM336.03 492.25L345.53 501.75M336.03 501.75L345.53 492.25M341.57 480.65H351.07V490.15H341.57ZM341.57 480.65L351.07 490.15M341.57 490.15L351.07 480.65M347.11 484.45H356.61V493.95H347.11ZM347.11 484.45L356.61 493.95M347.11 493.95L356.61 484.45M352.65 498.65H362.15V508.15H352.65ZM352.65 498.65L362.15 508.15M352.65 508.15L362.15 498.65M358.2 463.95H367.7V473.45H358.2ZM358.2 463.95L367.7 473.45M358.2 473.45L367.7 463.95M363.74 436.85H373.24V446.35H363.74ZM363.74 436.85L373.24 446.35M363.74 446.35L373.24 436.85M369.28 486.85H378.78V496.35H369.28ZM369.28 486.85L378.78 496.35M369.28 496.35L378.78 486.85M374.82 468.85H384.32V478.35H374.82ZM374.82 468.85L384.32 478.35M374.82 478.35L384.32 468.85M380.36 476.55H389.86V486.05H380.36ZM380.36 476.55L389.86 486.05M380.36 486.05L389.86 476.55M385.9 449.15H395.4V458.65H385.9ZM385.9 449.15L395.4 458.65M385.9 458.65L395.4 449.15M391.44 465.55H400.94V475.05H391.44ZM391.44 465.55L400.94 475.05M391.44 475.05L400.94 465.55M396.98 453.95H406.48V463.45H396.98ZM396.98 453.95L406.48 463.45M396.98 463.45L406.48 453.95M402.52 473.75H412.02V483.25H402.52ZM402.52 473.75L412.02 483.25M402.52 483.25L412.02 473.75M408.06 440.45H417.56V449.95H408.06ZM408.06 440.45L417.56 449.95M408.06 449.95L417.56 440.45M413.61 446.55H423.11V456.05H413.61ZM413.61 446.55L423.11 456.05M413.61 456.05L423.11 446.55M419.15 462.15H428.65V471.65H419.15ZM419.15 462.15L428.65 471.65M419.15 471.65L428.65 462.15M424.69 471.65H434.19V481.15H424.69ZM424.69 471.65L434.19 481.15M424.69 481.15L434.19 471.65M430.23 470.45H439.73V479.95H430.23ZM430.23 470.45L439.73 479.95M430.23 479.95L439.73 470.45M435.77 477.35H445.27V486.85H435.77ZM435.77 477.35L445.27 486.85M435.77 486.85L445.27 477.35M441.31 463.95H450.81V473.45H441.31ZM441.31 463.95L450.81 473.45M441.31 473.45L450.81 463.95M446.85 487.85H456.35V497.35H446.85ZM446.85 487.85L456.35 497.35M446.85 497.35L456.35 487.85M452.39 476.85H461.89V486.35H452.39ZM452.39 476.85L461.89 486.35M452.39 486.35L461.89 476.85M457.93 495.55H467.43V505.05H457.93ZM457.93 495.55L467.43 505.05M457.93 505.05L467.43 495.55M463.47 456.85H472.97V466.35H463.47ZM463.47 456.85L472.97 466.35M463.47 466.35L472.97 456.85M469.01 493.75H478.51V503.25H469.01ZM469.01 493.75L478.51 503.25M469.01 503.25L478.51 493.75M474.56 447.55H484.06V457.05H474.56ZM474.56 447.55L484.06 457.05M474.56 457.05L484.06 447.55M480.1 474.25H489.6V483.75H480.1ZM480.1 474.25L489.6 483.75M480.1 483.75L489.6 474.25M485.64 453.35H495.14V462.85H485.64ZM485.64 453.35L495.14 462.85M485.64 462.85L495.14 453.35M491.18 484.45H500.68V493.95H491.18ZM491.18 484.45L500.68 493.95M491.18 493.95L500.68 484.45M496.72 506.25H506.22V515.75H496.72ZM496.72 506.25L506.22 515.75M496.72 515.75L506.22 506.25M502.26 469.55H511.76V479.05H502.26ZM502.26 469.55L511.76 479.05M502.26 479.05L511.76 469.55M507.8 447.55H517.3V457.05H507.8ZM507.8 447.55L517.3 457.05M507.8 457.05L517.3 447.55M513.34 475.75H522.84V485.25H513.34ZM513.34 475.75L522.84 485.25M513.34 485.25L522.84 475.75M518.88 465.55H528.38V475.05H518.88ZM518.88 465.55L528.38 475.05M518.88 475.05L528.38 465.55M524.43 489.45H533.93V498.95H524.43ZM524.43 489.45L533.93 498.95M524.43 498.95L533.93 489.45M529.97 476.05H539.47V485.55H529.97ZM529.97 476.05L539.47 485.55M529.97 485.55L539.47 476.05M535.51 489.75H545.01V499.25H535.51ZM535.51 489.75L545.01 499.25M535.51 499.25L545.01 489.75M541.05 480.35H550.55V489.85H541.05ZM541.05 480.35L550.55 489.85M541.05 489.85L550.55 480.35M546.59 499.45H556.09V508.95H546.59ZM546.59 499.45L556.09 508.95M546.59 508.95L556.09 499.45M552.13 490.45H561.63V499.95H552.13ZM552.13 490.45L561.63 499.95M552.13 499.95L561.63 490.45M557.67 497.15H567.17V506.65H557.67ZM557.67 497.15L567.17 506.65M557.67 506.65L567.17 497.15M563.21 490.65H572.71V500.15H563.21ZM563.21 490.65L572.71 500.15M563.21 500.15L572.71 490.65M568.75 478.25H578.25V487.75H568.75ZM568.75 478.25L578.25 487.75M568.75 487.75L578.25 478.25M574.29 471.65H583.79V481.15H574.29ZM574.29 471.65L583.79 481.15M574.29 481.15L583.79 471.65M579.84 458.55H589.34V468.05H579.84ZM579.84 458.55L589.34 468.05M579.84 468.05L589.34 458.55M585.38 467.55H594.88V477.05H585.38ZM585.38 467.55L594.88 477.05M585.38 477.05L594.88 467.55M590.92 474.45H600.42V483.95H590.92ZM590.92 474.45L600.42 483.95M590.92 483.95L600.42 474.45M596.46 460.95H605.96V470.45H596.46ZM596.46 460.95L605.96 470.45M596.46 470.45L605.96 460.95M602 488.05H611.5V497.55H602ZM602 488.05L611.5 497.55M602 497.55L611.5 488.05M607.54 495.75H617.04V505.25H607.54ZM607.54 495.75L617.04 505.25M607.54 505.25L617.04 495.75M613.08 474.45H622.58V483.95H613.08ZM613.08 474.45L622.58 483.95M613.08 483.95L622.58 474.45M618.62 479.85H628.12V489.35H618.62ZM618.62 479.85L628.12 489.35M618.62 489.35L628.12 479.85M624.16 479.05H633.66V488.55H624.16ZM624.16 479.05L633.66 488.55M624.16 488.55L633.66 479.05M629.7 442.15H639.2V451.65H629.7ZM629.7 442.15L639.2 451.65M629.7 451.65L639.2 442.15M635.25 481.45H644.75V490.95H635.25ZM635.25 481.45L644.75 490.95M635.25 490.95L644.75 481.45M640.79 450.35H650.29V459.85H640.79ZM640.79 450.35L650.29 459.85M640.79 459.85L650.29 450.35M646.33 469.55H655.83V479.05H646.33ZM646.33 469.55L655.83 479.05M646.33 479.05L655.83 469.55M651.87 445.45H661.37V454.95H651.87ZM651.87 445.45L661.37 454.95M651.87 454.95L661.37 445.45M657.41 470.45H666.91V479.95H657.41ZM657.41 470.45L666.91 479.95M657.41 479.95L666.91 470.45M114.39 507.75L123.89 517.25M114.39 517.25L123.89 507.75M112.42 512.5H125.86M119.14 505.78V519.22M119.93 395.65L129.43 405.15M119.93 405.15L129.43 395.65M117.96 400.4H131.4M124.68 393.68V407.12M125.47 484.45L134.97 493.95M125.47 493.95L134.97 484.45M123.51 489.2H136.94M130.22 482.48V495.92M131.01 506.25L140.51 515.75M131.01 515.75L140.51 506.25M129.05 511H142.48M135.76 504.28V517.72M136.56 477.25L146.06 486.75M136.56 486.75L146.06 477.25M134.59 482H148.02M141.31 475.28V488.72M142.1 406.25L151.6 415.75M142.1 415.75L151.6 406.25M140.13 411H153.56M146.85 404.28V417.72M153.18 460.25L162.68 469.75M153.18 469.75L162.68 460.25M151.21 465H164.65M157.93 458.28V471.72M158.72 504.35L168.22 513.85M158.72 513.85L168.22 504.35M156.75 509.1H170.19M163.47 502.38V515.82M191.97 484.35L201.47 493.85M191.97 493.85L201.47 484.35M190 489.1H203.43M196.72 482.38V495.82M214.13 503.25L223.63 512.75M214.13 512.75L223.63 503.25M212.16 508H225.6M218.88 501.28V514.72M219.67 454.45L229.17 463.95M219.67 463.95L229.17 454.45M217.7 459.2H231.14M224.42 452.48V465.92M230.75 483.95L240.25 493.45M230.75 493.45L240.25 483.95M228.78 488.7H242.22M235.5 481.98V495.42M236.29 503.75L245.79 513.25M236.29 513.25L245.79 503.75M234.33 508.5H247.76M241.04 501.78V515.22M247.38 479.05L256.88 488.55M247.38 488.55L256.88 479.05M245.41 483.8H258.84M252.12 477.08V490.52M275.08 505.25L284.58 514.75M275.08 514.75L284.58 505.25M273.11 510H286.55M279.83 503.28V516.72M280.62 487.85L290.12 497.35M280.62 497.35L290.12 487.85M278.65 492.6H292.09M285.37 485.88V499.32M308.33 489.95L317.83 499.45M308.33 499.45L317.83 489.95M306.36 494.7H319.79M313.08 487.98V501.42M319.41 494.25L328.91 503.75M319.41 503.75L328.91 494.25M317.44 499H330.88M324.16 492.28V505.72M324.95 485.05L334.45 494.55M324.95 494.55L334.45 485.05M322.98 489.8H336.42M329.7 483.08V496.52M330.49 505.25L339.99 514.75M330.49 514.75L339.99 505.25M328.52 510H341.96M335.24 503.28V516.72M341.57 498.45L351.07 507.95M341.57 507.95L351.07 498.45M339.6 503.2H353.04M346.32 496.48V509.92M374.82 499.65L384.32 509.15M374.82 509.15L384.32 499.65M372.85 504.4H386.29M379.57 497.68V511.12M391.44 508.25L400.94 517.75M391.44 517.75L400.94 508.25M389.47 513H402.91M396.19 506.28V519.72M408.06 499.65L417.56 509.15M408.06 509.15L417.56 499.65M406.1 504.4H419.53M412.81 497.68V511.12M424.69 484.55L434.19 494.05M424.69 494.05L434.19 484.55M422.72 489.3H436.15M429.44 482.58V496.02M441.31 484.25L450.81 493.75M441.31 493.75L450.81 484.25M439.34 489H452.78M446.06 482.28V495.72M474.56 508.25L484.06 517.75M474.56 517.75L484.06 508.25M472.59 513H486.02M479.31 506.28V519.72M491.18 493.75L500.68 503.25M491.18 503.25L500.68 493.75M489.21 498.5H502.65M495.93 491.78V505.22M507.8 499.05L517.3 508.55M507.8 508.55L517.3 499.05M505.83 503.8H519.27M512.55 497.08V510.52M557.67 497.15L567.17 506.65M557.67 506.65L567.17 497.15M555.7 501.9H569.14M562.42 495.18V508.62M574.29 503.25L583.79 512.75M574.29 512.75L583.79 503.25M572.33 508H585.76M579.04 501.28V514.72M590.92 497.25L600.42 506.75M590.92 506.75L600.42 497.25M588.95 502H602.38M595.67 495.28V508.72M618.62 484.75L628.12 494.25M618.62 494.25L628.12 484.75M616.65 489.5H630.09M623.37 482.78V496.22M629.7 501.75L639.2 511.25M629.7 511.25L639.2 501.75M627.74 506.5H641.17M634.45 499.78V513.22M651.87 499.95L661.37 509.45M651.87 509.45L661.37 499.95M649.9 504.7H663.34M656.62 497.98V511.42" stroke-width="1.35" stroke-linejoin="round" stroke-linecap="round"/>
</g>
<path d="M683.6 0.5H97.4V507.7H683.6" fill="none" stroke="#000" stroke-width="1.3"/>
<rect x="682.9" y="0" width="2.1" height="508.4" fill="#303030"/>
<path d="M84 489H97.4M84 424.05H97.4M84 338.2H97.4M84 273.25H97.4M84 208.3H97.4M84 122.45H97.4M84 57.5H97.4M113.6 507.7V520.8M224.42 507.7V520.8M335.24 507.7V520.8M446.06 507.7V520.8M556.88 507.7V520.8M667.7 507.7V520.8" stroke="#000" stroke-width="1.3" fill="none"/>
<text x="0" y="0" font-size="21.2" text-anchor="middle" transform="translate(66.1 489) rotate(-90)">1</text>
<text x="0" y="0" font-size="21.2" text-anchor="middle" transform="translate(66.1 424.05) rotate(-90)">2</text>
<text x="0" y="0" font-size="21.2" text-anchor="middle" transform="translate(66.1 338.2) rotate(-90)">5</text>
<text x="0" y="0" font-size="21.2" text-anchor="middle" transform="translate(66.1 273.25) rotate(-90)">10</text>
<text x="0" y="0" font-size="21.2" text-anchor="middle" transform="translate(66.1 208.3) rotate(-90)">20</text>
<text x="0" y="0" font-size="21.2" text-anchor="middle" transform="translate(66.1 122.45) rotate(-90)">50</text>
<text x="0" y="0" font-size="21.2" text-anchor="middle" transform="translate(66.1 57.5) rotate(-90)">100</text>
<text x="113.6" y="553.95" font-size="21.2" text-anchor="middle">0</text>
<text x="224.42" y="553.95" font-size="21.2" text-anchor="middle">20</text>
<text x="335.24" y="553.95" font-size="21.2" text-anchor="middle">40</text>
<text x="446.06" y="553.95" font-size="21.2" text-anchor="middle">60</text>
<text x="556.88" y="553.95" font-size="21.2" text-anchor="middle">80</text>
<text x="667.7" y="553.95" font-size="21.2" text-anchor="middle">100</text>
<text x="390.4" y="604.7" font-size="21.2" text-anchor="middle">Sampling depth</text>
<text x="0" y="0" font-size="21.2" text-anchor="middle" transform="translate(15.7 253.6) rotate(-90)">Residual Deviance</text>
</svg></body></html>
